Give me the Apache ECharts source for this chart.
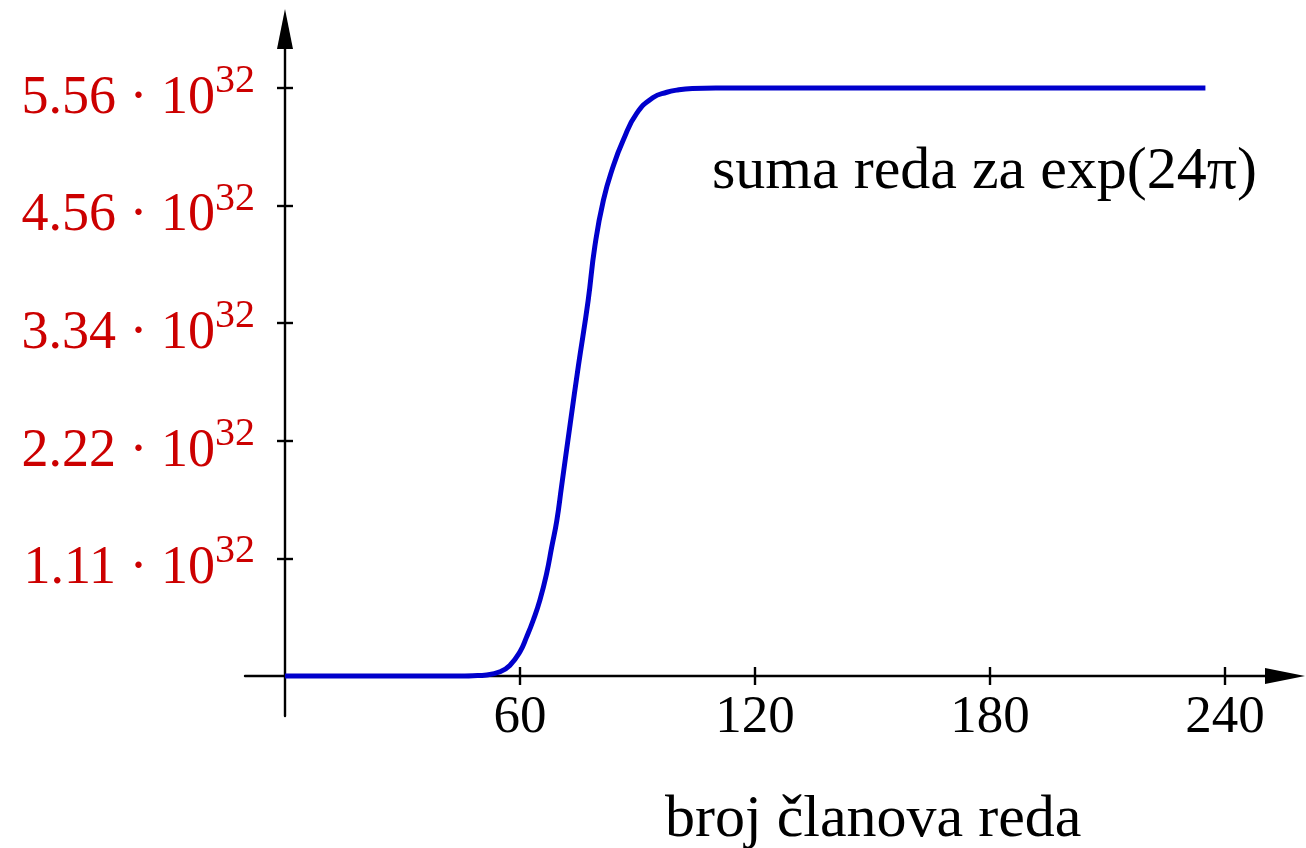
<!DOCTYPE html>
<html>
<head>
<meta charset="utf-8">
<script src="https://cdn.jsdelivr.net/npm/echarts@6/dist/echarts.min.js"></script>
<style>
html,body{margin:0;padding:0;background:#fff;}
#chart{width:1306px;height:848px;}
</style>
</head>
<body>
<div id="chart"></div>
<script>
// number of series terms (x) and partial sums in units of 10^32 (y)
var termCounts = [0, 40, 45, 48, 51.5, 54.9, 57.4, 60, 61.7, 63.4, 65.1, 66.8, 68.1, 69.4, 70.6, 72.8, 74.9, 77.4, 79.1, 81.3, 83.8, 86.4, 89.8, 94, 97.5, 100, 104, 110, 130, 235];
var partialSums = [0, 0, 0.001, 0.003, 0.01, 0.04, 0.1, 0.23, 0.37, 0.53, 0.72, 0.97, 1.22, 1.47, 1.79, 2.38, 2.93, 3.55, 4.06, 4.5, 4.82, 5.07, 5.32, 5.47, 5.52, 5.54, 5.555, 5.56, 5.56, 5.56];

var xTickValues = [60, 120, 180, 240];
var xTickLabels = ['60', '120', '180', '240'];
var yTickValues = [1.112, 2.224, 3.336, 4.448, 5.56];
var yTickLabels = ['1.11', '2.22', '3.34', '4.56', '5.56'];
var yExponent = '32';

var seriesName = 'suma reda za exp(24\u03c0)';
var xTitle = 'broj \u010dlanova reda';

var FONT = 'Liberation Serif';
var RED = '#cc0000';
var BLUE = '#0000cc';

var data = termCounts.map(function (n, i) { return [n, partialSums[i]]; });

function nearestIndex(arr, v) {
  var best = 0;
  for (var i = 1; i < arr.length; i++) if (Math.abs(arr[i] - v) < Math.abs(arr[best] - v)) best = i;
  return best;
}

var X_MIN = -10.21, X_MAX = 255.32;
var Y_MIN = -0.378, Y_MAX = 6.118;

var chart = echarts.init(document.getElementById('chart'), null, {renderer: 'canvas'});
chart.setOption({
  backgroundColor: '#ffffff',
  animation: false,
  grid: {left: 245, right: 21, top: 29, bottom: 132, containLabel: false, outerBoundsMode: 'none'},
  xAxis: [{
    type: 'value', min: X_MIN, max: X_MAX, position: 'bottom',
    axisLine: {show: true, onZero: true, onZeroAxisIndex: 0, symbol: ['none', 'triangle'], symbolSize: [16, 40],
      lineStyle: {color: '#000', width: 2.4}},
    axisTick: {show: true, inside: false, length: 9, customValues: xTickValues, lineStyle: {color: '#000', width: 2.4}},
    axisLabel: {show: true, customValues: xTickValues, margin: -24, fontFamily: FONT, fontSize: 53, color: '#000',
      formatter: function (v) { return xTickLabels[nearestIndex(xTickValues, v)]; }},
    splitLine: {show: false}
  }, {
    type: 'value', min: X_MIN, max: X_MAX, position: 'bottom',
    axisLine: {show: false, onZero: true, onZeroAxisIndex: 0},
    axisTick: {show: true, inside: true, length: 9, customValues: xTickValues, lineStyle: {color: '#000', width: 2.4}},
    axisLabel: {show: false},
    splitLine: {show: false}
  }],
  yAxis: [{
    type: 'value', min: Y_MIN, max: Y_MAX, position: 'left',
    axisLine: {show: true, onZero: true, onZeroAxisIndex: 0, symbol: ['none', 'triangle'], symbolSize: [16, 40],
      lineStyle: {color: '#000', width: 2.4}},
    axisTick: {show: true, inside: false, length: 8, customValues: yTickValues, lineStyle: {color: '#000', width: 2.4}},
    axisLabel: {show: true, customValues: yTickValues, margin: -10, padding: [11, 0, 0, 0],
      formatter: function (v) {
        return '{m|' + yTickLabels[nearestIndex(yTickValues, v)] + ' \u00b7 10}{s|' + yExponent + '}';
      },
      rich: {
        m: {fontFamily: FONT, fontSize: 54, color: RED, lineHeight: 64, verticalAlign: 'bottom'},
        s: {fontFamily: FONT, fontSize: 40, color: RED, lineHeight: 34, verticalAlign: 'top'}
      }
    },
    splitLine: {show: false}
  }, {
    type: 'value', min: Y_MIN, max: Y_MAX, position: 'left',
    axisLine: {show: false, onZero: true, onZeroAxisIndex: 0},
    axisTick: {show: true, inside: true, length: 8, customValues: yTickValues, lineStyle: {color: '#000', width: 2.4}},
    axisLabel: {show: false},
    splitLine: {show: false}
  }],
  graphic: [{
    type: 'text', left: 712, top: 142,
    style: {text: seriesName, font: '60px "Liberation Serif"', fill: '#000'}
  }, {
    type: 'text', left: 665, top: 790,
    style: {text: xTitle, font: '60px "Liberation Serif"', fill: '#000'}
  }],
  series: [{
    name: seriesName,
    type: 'line',
    xAxisIndex: 0, yAxisIndex: 0,
    data: data,
    showSymbol: false,
    smooth: 0.5,
    lineStyle: {color: BLUE, width: 5},
    z: 3
  }]
});
</script>
</body>
</html>
